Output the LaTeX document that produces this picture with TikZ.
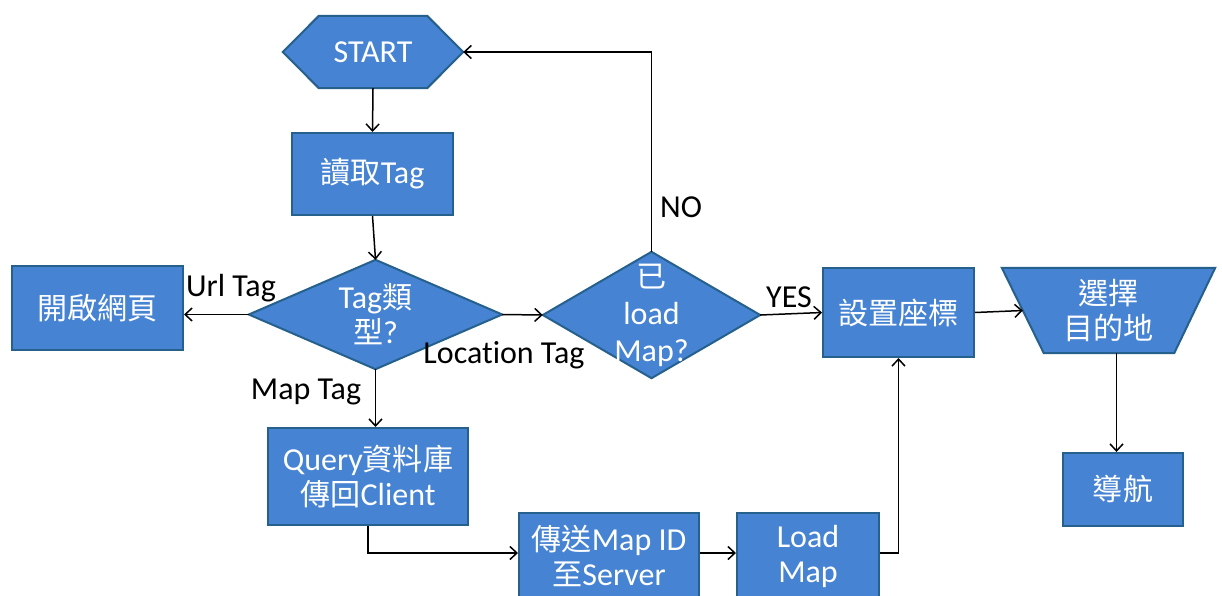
\documentclass[tikz,border=0pt]{standalone}
\usepackage{fontspec}
\setmainfont{Carlito}[Ligatures=NoCommon]
\newfontfamily\cjkfont{Noto Sans CJK TC}[Scale=0.94]
\newcommand\zh[1]{{\cjkfont #1}}
\usetikzlibrary{arrows.meta,calc}
\definecolor{boxfill}{RGB}{70,131,211}
\definecolor{boxline}{RGB}{38,96,140}
\pgfdeclarelayer{bg}
\pgfsetlayers{bg,main}
\begin{document}
\begin{tikzpicture}[x=1pt,y=-1pt,
  every node/.style={font=\fontsize{32}{35}\selectfont},
  box/.style={draw=boxline, line width=2pt, fill=boxfill, text=white, align=center, inner sep=0pt},
  ghost/.style={text=white, align=center, inner sep=0pt},
  shapeline/.style={draw=boxline, line width=2pt, fill=boxfill, line join=miter},
  arr/.style={line width=1.5pt, -{Straight Barb[length=7pt,width=13pt]}},
  lbl/.style={text=black, inner sep=0pt}]
\useasboundingbox (0,0) rectangle (1222,595);
\clip (0,0) rectangle (1222,595);

% process boxes
\node[box, minimum width=161pt, minimum height=82pt] (read) at (372.5,174) {\zh{讀取}Tag};
\node[box, minimum width=171pt, minimum height=84pt] (web) at (97.5,308) {\zh{開啟網頁}};
\node[box, minimum width=151pt, minimum height=89pt] (set) at (898.5,312.5) {\zh{設置座標}};
\node[box, minimum width=120pt, minimum height=73pt] (nav) at (1123,489.5) {\zh{導航}};
\node[box, minimum width=200pt, minimum height=97pt] (query) at (368,476.5) {Query\zh{資料庫}\\\zh{傳回}Client};
\node[box, minimum width=180pt, minimum height=86pt] (send) at (609,556) {\zh{傳送}Map ID\\\zh{至}Server};
\node[box, minimum width=142pt, minimum height=86pt] (lm) at (808,556) {Load\\Map};

% nodes whose outlines are drawn on the background layer
\node[ghost, minimum width=180pt, minimum height=72pt] (start) at (373,52) {START};
\node[ghost, minimum width=253pt, minimum height=109pt] (tt) at (375.5,314.5) {Tag\zh{類}\\\zh{型}?};
\node[ghost, minimum width=217pt, minimum height=126pt, font=\fontsize{32}{37}\selectfont] (load) at (651.5,315) {\zh{已}\\load\\Map?};
\node[ghost, minimum width=213pt, minimum height=85pt] (choose) at (1108.5,310.5) {\zh{選擇}\\\zh{目的地}};

\begin{pgfonlayer}{bg}
  \fill[white] (0,0) rectangle (1222,595);
  \draw[shapeline] (start.west) -- ($(start.north west)+(36,0)$) -- ($(start.north east)+(-36,0)$)
    -- (start.east) -- ($(start.south east)+(-36,0)$) -- ($(start.south west)+(36,0)$) -- cycle;
  \draw[shapeline] (tt.west) -- (tt.north) -- (tt.east) -- (tt.south) -- cycle;
  \draw[shapeline] (load.west) -- (load.north) -- (load.east) -- (load.south) -- cycle;
  \draw[shapeline] (choose.north west) -- (choose.north east) -- ($(choose.south east)+(-41,0)$)
    -- ($(choose.south west)+(42,0)$) -- cycle;
\end{pgfonlayer}

% branch labels
\node[lbl] (lurl) at (231,288) {Url Tag};
\node[lbl] (lloc) at (504,355) {Location Tag};
\node[lbl] (lmap) at (306,392) {Map Tag};
\node[lbl] (lno) at (681,207) {NO};
\node[lbl] (lyes) at (789,297) {YES};

% connectors
\coordinate (choose-in) at ($(choose.north west)!0.5!(choose.south west)+(21,0)$);
\coordinate (choose-out) at ($(choose.south)+(8,0)$);
\coordinate (send-in) at ($(send.north west)+(0,41)$);

\draw[arr] (start.south) -- (read.north);
\draw[arr] (read.south) -- (tt.north);
\draw[arr] (tt.west) -- (tt.west -| web.east);
\draw[arr] (tt.east) -- (load.west);
\draw[arr] (load.north) |- (start.east);
\draw[arr] (load.east) -- (set.west);
\draw[arr] (set.east) -- (choose-in);
\draw[arr] (choose-out) -- (choose-out |- nav.north);
\draw[arr] (tt.south) -- (tt.south |- query.north);
\draw[arr] (query.south) |- (send-in);
\draw[arr] (send-in -| send.east) -- (send-in -| lm.west);
\draw[arr] (send-in -| lm.east) -| (set.south);
\end{tikzpicture}
\end{document}
